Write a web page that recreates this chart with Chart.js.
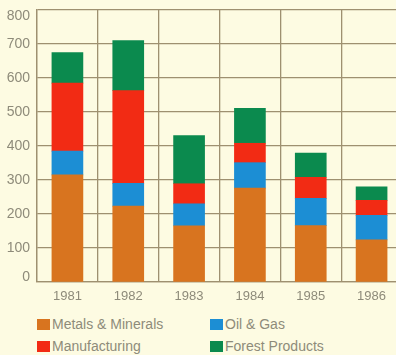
<!DOCTYPE html>
<html lang="en">
<head>
<meta charset="UTF-8">
<title>Exports by sector</title>
<script src="https://cdn.jsdelivr.net/npm/chart.js"></script>
<style>
  html, body { margin: 0; padding: 0; background: #fdfbe2; overflow: hidden; }
  #wrap { position: absolute; left: 0; top: 0; width: 402px; height: 300px; }
  .leg { position: absolute; font: 14px "Liberation Sans", Arial, sans-serif; color: #8e8b7a; white-space: nowrap; }
  .leg span { display: inline-block; width: 13px; height: 11px; margin-right: 2px; vertical-align: -1px; }
</style>
</head>
<body>
<div id="wrap"><canvas id="myChart" width="402" height="300"></canvas></div>
<div id="legend"></div>
<script>
const years = ['1981', '1982', '1983', '1984', '1985', '1986'];
const metals = [315, 223, 165, 276, 166, 124];
const oilGas = [70, 67, 65, 75, 80, 72];
const manufacturing = [200, 273, 59, 57, 62, 44];
const forest = [90, 147, 142, 103, 71, 40];
const yTicks = [0, 100, 200, 300, 400, 500, 600, 700, 800];

const seriesNames = ['Metals & Minerals', 'Oil & Gas', 'Manufacturing', 'Forest Products'];
const seriesColors = ['#d8741f', '#1c8ed4', '#f22b14', '#0b8a4e'];
const seriesData = [metals, oilGas, manufacturing, forest];

const gridColor = '#9e9070';
const textColor = '#8e8b7a';

const datasets = seriesData.map((d, i) => ({
  label: seriesNames[i],
  data: d,
  backgroundColor: seriesColors[i],
  borderWidth: 0,
  barThickness: 31
}));

// y labels drawn by hand so the end ones sit inside the frame like the original
const yLabels = {
  id: 'yLabels',
  afterDraw(chart) {
    const s = chart.scales.y;
    const c = chart.ctx;
    c.save();
    c.font = '14px "Liberation Sans", Arial, sans-serif';
    c.fillStyle = textColor;
    c.textAlign = 'right';
    c.textBaseline = 'middle';
    yTicks.forEach(v => {
      let py = s.getPixelForValue(v);
      py = Math.min(Math.max(py, s.top + 6), s.bottom - 5);
      c.fillText(String(v), 30, py);
    });
    c.restore();
  }
};

const ctx = document.getElementById('myChart').getContext('2d');
const myChart = new Chart(ctx, {
  type: 'bar',
  data: { labels: years, datasets: datasets },
  options: {
    responsive: false,
    animation: false,
    layout: { padding: { top: 10, right: 0, left: 0, bottom: 0 } },
    plugins: { legend: { display: false }, tooltip: { enabled: false } },
    scales: {
      x: {
        stacked: true,
        grid: { color: gridColor, lineWidth: 1.3, drawTicks: false },
        border: { color: gridColor, width: 1.3 },
        ticks: { color: textColor, font: { family: 'Liberation Sans', size: 13 }, padding: 7 },
        afterFit: s => { s.height = 18; }
      },
      y: {
        stacked: true,
        min: 0,
        max: 800,
        grid: { color: gridColor, lineWidth: 1.3, drawTicks: false },
        border: { color: gridColor, width: 1.3 },
        afterBuildTicks: s => { s.ticks = yTicks.map(v => ({ value: v })); },
        ticks: { display: false },
        afterFit: s => { s.width = 37; }
      }
    }
  },
  plugins: [yLabels]
});

// legend in two columns like the original
const legPos = [[37, 316], [210, 316], [37, 338], [210, 338]];
const legend = document.getElementById('legend');
seriesNames.forEach((name, i) => {
  const d = document.createElement('div');
  d.className = 'leg';
  d.style.left = legPos[i][0] + 'px';
  d.style.top = legPos[i][1] + 'px';
  d.innerHTML = '<span style="background:' + seriesColors[i] + '"></span>' + name;
  legend.appendChild(d);
});
</script>
</body>
</html>
